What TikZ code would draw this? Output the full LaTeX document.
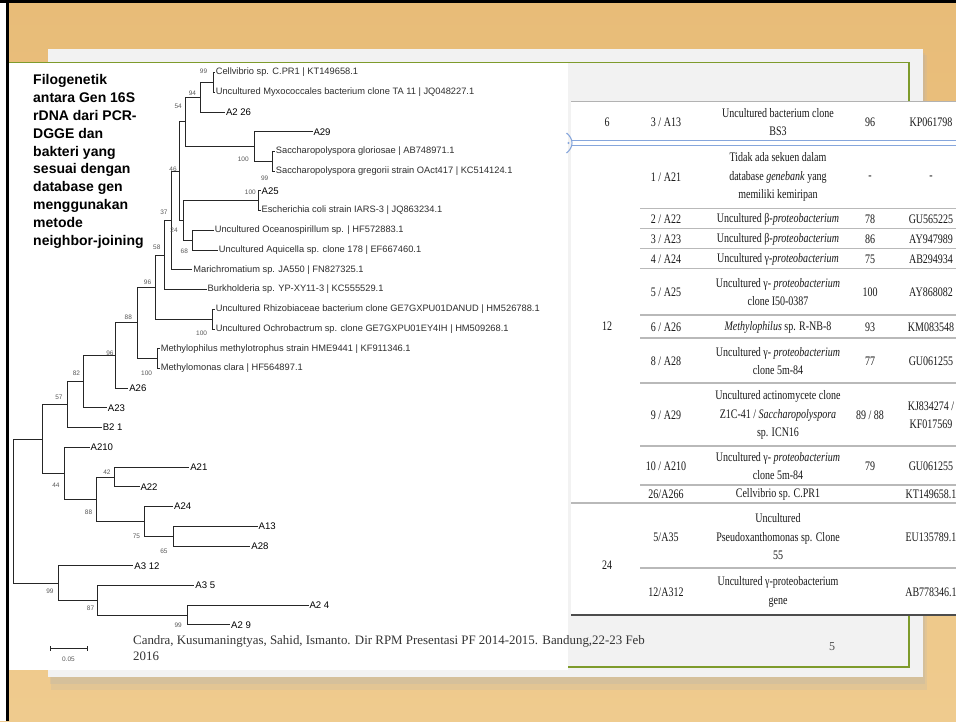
\documentclass[tikz,border=0pt]{standalone}
\usepackage{fontspec}
\setmainfont{Liberation Serif}
\newfontfamily\tabfont[FakeStretch=0.77]{Liberation Serif}
\newfontfamily\arialf{Liberation Sans}
\definecolor{woodtop}{HTML}{E8BC78}
\definecolor{woodbot}{HTML}{EFCB8E}
\definecolor{cardgrey}{HTML}{F2F2F2}
\definecolor{framegreen}{HTML}{7E9B2C}
\definecolor{selblue}{HTML}{86A6DC}
\tikzset{
  tl/.style={font=\arialf\fontsize{9.3}{10}\selectfont, anchor=west, inner sep=0.8pt, text=black!82},
  sl/.style={font=\arialf\fontsize{9.6}{10}\selectfont, anchor=west, inner sep=0.8pt, text=black},
  bs/.style={font=\arialf\fontsize{6.5}{7}\selectfont, text=black!65, inner sep=0},
  br/.style={draw=black!85, line width=0.9pt},
  tc/.style={font=\tabfont\fontsize{13}{18.5}\selectfont, align=center, inner sep=0, text=black!90},
  sepline/.style={draw=gray!55, line width=1.3pt},
}
\begin{document}
\begin{tikzpicture}[x=1pt,y=-1pt]
\useasboundingbox (0,0) rectangle (956,721);
% background
\shade[top color=woodtop, bottom color=woodbot] (0,0) rectangle (956,721);
\fill[white] (0,0) rectangle (6,721);
\fill[black] (6,0) rectangle (9,721);
\fill[black] (0,0) rectangle (956,2.5);
% card shadow and card
\fill[black!30, opacity=0.2] (51,55) rectangle (927,690);
\fill[black!30, opacity=0.25] (50,53) rectangle (925,684);
\fill[cardgrey] (48,49) rectangle (923,677);
% green frame
\draw[framegreen, line width=1.4pt] (33,62.5) rectangle (909,667);
% tree image
\fill[white] (9,63.2) rectangle (568,670);
\draw[framegreen, line width=1.4pt] (9,62.5) -- (568,62.5);
% table background
\fill[white] (571,101) rectangle (956,615);

% ---------- title ----------
\node[anchor=north west, align=left, inner sep=0, font=\arialf\bfseries\fontsize{14}{17.8}\selectfont] (title) at (33,74.5)
{Filogenetik\\antara Gen 16S\\rDNA dari PCR-\\DGGE dan\\bakteri yang\\sesuai dengan\\database gen\\menggunakan\\metode\\neighbor-joining};

% ---------- tree: internal nodes ----------
\coordinate (n99a) at (213.3,82.35);
\coordinate (n94) at (200.5,97.2);
\coordinate (nSac) at (272.8,161.3);
\coordinate (n100a) at (254.5,146.5);
\coordinate (n54) at (185.3,121.8);
\coordinate (nA25) at (258.6,200.8);
\coordinate (n68) at (192.4,240.2);
\coordinate (n24) at (183.2,220.5);
\coordinate (n46) at (179.2,171.2);
\coordinate (n37) at (171,220.5);
\coordinate (n58) at (164.9,255);
\coordinate (nRO) at (212.8,319.1);
\coordinate (n96a) at (155.8,287.1);
\coordinate (nMM) at (157.8,358.6);
\coordinate (n88a) at (137.4,322.8);
\coordinate (n96b) at (115,355.5);
\coordinate (n82) at (83.5,381.7);
\coordinate (n57) at (67.2,404.7);
\coordinate (n42) at (114,477);
\coordinate (n65) at (173.1,536.1);
\coordinate (n75) at (144.6,521.3);
\coordinate (n88b) at (96.7,499.2);
\coordinate (n44) at (64.1,473.2);
\coordinate (nL) at (42.8,439);
\coordinate (n99d) at (187.3,615.1);
\coordinate (n87) at (97.7,600.3);
\coordinate (n99c) at (58,583.1);
\coordinate (root) at (13.2,511);

% ---------- tree: leaf ends ----------
\coordinate (eCell) at (214.8,72.5);
\coordinate (eMyxo) at (214.8,92.2);
\coordinate (eA226) at (225,112);
\coordinate (eA29) at (312.5,131.7);
\coordinate (eSgl) at (274.9,151.4);
\coordinate (eSgr) at (274.9,171.2);
\coordinate (eA25) at (260.6,190.9);
\coordinate (eEcoli) at (260.6,210.6);
\coordinate (eOcean) at (213.8,230.3);
\coordinate (eAqui) at (217.9,250.1);
\coordinate (eMarich) at (192.4,269.8);
\coordinate (eBurk) at (206.7,289.5);
\coordinate (eRhizo) at (214.8,309.3);
\coordinate (eOchro) at (214.8,329);
\coordinate (eMphil) at (159.8,348.7);
\coordinate (eMmon) at (159.8,368.5);
\coordinate (eA26) at (128.3,388.2);
\coordinate (eA23) at (106.9,407.9);
\coordinate (eB21) at (101.8,427.6);
\coordinate (eA210) at (89.6,447.4);
\coordinate (eA21) at (189.3,467.1);
\coordinate (eA22) at (139.5,486.8);
\coordinate (eA24) at (173.1,506.6);
\coordinate (eA13) at (257.6,526.3);
\coordinate (eA28) at (250.4,546);
\coordinate (eA312) at (133.4,565.8);
\coordinate (eA35) at (194.4,585.5);
\coordinate (eA24b) at (308.5,605.2);
\coordinate (eA29b) at (230.1,624.9);

% ---------- tree: branches ----------
\foreach \p/\c in {root/nL, root/n99c, nL/n57, nL/n44, n57/n82, n57/eB21,
  n82/n96b, n82/eA23, n96b/n88a, n96b/eA26, n88a/n96a, n88a/nMM,
  nMM/eMphil, nMM/eMmon, n96a/n58, n96a/nRO, nRO/eRhizo, nRO/eOchro,
  n58/n37, n58/eBurk, n37/n46, n37/eMarich, n46/n54, n46/n24,
  n24/nA25, n24/n68, n68/eOcean, n68/eAqui, nA25/eA25, nA25/eEcoli,
  n54/n94, n54/n100a, n94/n99a, n94/eA226, n99a/eCell, n99a/eMyxo,
  n100a/eA29, n100a/nSac, nSac/eSgl, nSac/eSgr,
  n44/eA210, n44/n88b, n88b/n42, n88b/n75, n42/eA21, n42/eA22,
  n75/eA24, n75/n65, n65/eA13, n65/eA28,
  n99c/eA312, n99c/n87, n87/eA35, n87/n99d, n99d/eA24b, n99d/eA29b}
  \draw[br] (\p) |- (\c);

% ---------- tree: leaf labels ----------
\node[tl] (tCell) at (eCell) {Cellvibrio sp. C.PR1 | KT149658.1};
\node[tl] (tMyxo) at (eMyxo) {Uncultured Myxococcales bacterium clone TA 11 | JQ048227.1};
\node[sl] (tA226) at (eA226) {A2 26};
\node[sl] (tA29) at (eA29) {A29};
\node[tl] (tSgl) at (eSgl) {Saccharopolyspora gloriosae | AB748971.1};
\node[tl] (tSgr) at (eSgr) {Saccharopolyspora gregorii strain OAct417 | KC514124.1};
\node[sl] (tA25) at (eA25) {A25};
\node[tl] (tEcoli) at (eEcoli) {Escherichia coli strain IARS-3 | JQ863234.1};
\node[tl] (tOcean) at (eOcean) {Uncultured Oceanospirillum sp. | HF572883.1};
\node[tl] (tAqui) at (eAqui) {Uncultured Aquicella sp. clone 178 | EF667460.1};
\node[tl] (tMarich) at (eMarich) {Marichromatium sp. JA550 | FN827325.1};
\node[tl] (tBurk) at (eBurk) {Burkholderia sp. YP-XY11-3 | KC555529.1};
\node[tl] (tRhizo) at (eRhizo) {Uncultured Rhizobiaceae bacterium clone GE7GXPU01DANUD | HM526788.1};
\node[tl] (tOchro) at (eOchro) {Uncultured Ochrobactrum sp. clone GE7GXPU01EY4IH | HM509268.1};
\node[tl] (tMphil) at (eMphil) {Methylophilus methylotrophus strain HME9441 | KF911346.1};
\node[tl] (tMmon) at (eMmon) {Methylomonas clara | HF564897.1};
\node[sl] (tA26) at (eA26) {A26};
\node[sl] (tA23) at (eA23) {A23};
\node[sl] (tB21) at (eB21) {B2 1};
\node[sl] (tA210) at (eA210) {A210};
\node[sl] (tA21) at (eA21) {A21};
\node[sl] (tA22) at (eA22) {A22};
\node[sl] (tA24) at (eA24) {A24};
\node[sl] (tA13) at (eA13) {A13};
\node[sl] (tA28) at (eA28) {A28};
\node[sl] (tA312) at (eA312) {A3 12};
\node[sl] (tA35) at (eA35) {A3 5};
\node[sl] (tA24b) at (eA24b) {A2 4};
\node[sl] (tA29b) at (eA29b) {A2 9};

% ---------- tree: bootstrap values ----------
\node[bs] (b99a) at (203.6,71) {99};
\node[bs] (b94) at (192.4,92.9) {94};
\node[bs] (b54) at (178.2,106.1) {54};
\node[bs] (b100a) at (243.3,159.1) {100};
\node[bs] (b99s) at (264.7,178.4) {99};
\node[bs] (b100b) at (250.4,192.7) {100};
\node[bs] (b46) at (173.1,169.3) {46};
\node[bs] (b37) at (163.9,212.6) {37};
\node[bs] (b24) at (174.1,230.5) {24};
\node[bs] (b68) at (184.3,250.8) {68};
\node[bs] (b58) at (156.8,246.8) {58};
\node[bs] (b96a) at (147.6,282.4) {96};
\node[bs] (b100c) at (201.6,333.4) {100};
\node[bs] (b88a) at (128.3,317.1) {88};
\node[bs] (b100d) at (146.6,373.1) {100};
\node[bs] (b96b) at (109.9,352.8) {96};
\node[bs] (b82) at (76.4,373.1) {82};
\node[bs] (b57) at (59,397.6) {57};
\node[bs] (b44) at (56,485.2) {44};
\node[bs] (b42) at (106.9,472.1) {42};
\node[bs] (b88b) at (88.6,511.8) {88};
\node[bs] (b75) at (136.4,536.4) {75};
\node[bs] (b65) at (163.9,551.7) {65};
\node[bs] (b99c) at (49.9,591.2) {99};
\node[bs] (b87) at (90.6,608.5) {87};
\node[bs] (b99d) at (178.2,624.9) {99};

% scale bar
\coordinate (sbL) at (50,648);
\coordinate (sbR) at (87,648);
\draw[br, line width=0.8pt] (sbL) -- (sbR);
\draw[br, line width=0.8pt] ([yshift=-2.5pt]sbL) -- ([yshift=2.5pt]sbL);
\draw[br, line width=0.8pt] ([yshift=-2.5pt]sbR) -- ([yshift=2.5pt]sbR);
\node[bs] (sbtext) at (68.5,659) {0.05};

% citation
\node[anchor=west, align=left, inner sep=0, text=black!80, font=\fontsize{12.9}{16}\selectfont] (cite) at (133,648)
{Candra, Kusumaningtyas, Sahid, Ismanto. Dir RPM Presentasi PF 2014-2015. Bandung,22-23 Feb\\2016};
% page number
\node[inner sep=0, text=black!70, font=\fontsize{12}{14}\selectfont] (pagenum) at (832,647) {5};

% ---------- table lines ----------
\draw[gray!60, line width=1pt] (571,101) -- (956,101);
\draw[selblue, line width=1.6pt] (572,140.5) -- (956,140.5);
\draw[selblue, line width=1.6pt] (572,145.5) -- (956,145.5);
\draw[selblue, line width=1.1pt] (566.5,133) .. controls (570,136) and (572,139) .. (572,143) .. controls (572,147) and (570,150) .. (566.5,153);
\fill[selblue] (568.5,143) circle (1.1);
\foreach \yy in {208.5,228.5,248.5,268.5,315,338,383,446,485,568}
  \draw[sepline] (640,\yy) -- (956,\yy);
\draw[sepline] (571,503) -- (956,503);
\draw[black!70, line width=2pt] (571,615) -- (956,615);

% ---------- table text ----------
\node[tc] (g6) at (607,122) {6};
\node[tc] (g12) at (607,326) {12};
\node[tc] (g24) at (607,565) {24};

\node[tc] (a1) at (666,122) {3 / A13};
\node[tc] (d1) at (778,122) {Uncultured bacterium clone\\BS3};
\node[tc] (s1) at (870,122) {96};
\node[tc] (k1) at (931,122) {KP061798};

\node[tc] (a2) at (666,177) {1 / A21};
\node[tc] (d2) at (778,177) {Tidak ada sekuen dalam\\database \textit{genebank} yang\\memiliki kemiripan};
\node[tc] (s2) at (870,178) {-};
\node[tc] (k2) at (931,178) {-};

\node[tc] (a3) at (666,219) {2 / A22};
\node[tc] (d3) at (778,219) {Uncultured β-\textit{proteobacterium}};
\node[tc] (s3) at (870,219) {78};
\node[tc] (k3) at (931,219) {GU565225};

\node[tc] (a4) at (666,239) {3 / A23};
\node[tc] (d4) at (778,239) {Uncultured β-\textit{proteobacterium}};
\node[tc] (s4) at (870,239) {86};
\node[tc] (k4) at (931,239) {AY947989};

\node[tc] (a5) at (666,259) {4 / A24};
\node[tc] (d5) at (778,259) {Uncultured γ-\textit{proteobacterium}};
\node[tc] (s5) at (870,259) {75};
\node[tc] (k5) at (931,259) {AB294934};

\node[tc] (a6) at (666,292) {5 / A25};
\node[tc] (d6) at (778,292) {Uncultured γ- \textit{proteobacterium}\\clone I50-0387};
\node[tc] (s6) at (870,292) {100};
\node[tc] (k6) at (931,292) {AY868082};

\node[tc] (a7) at (666,327) {6 / A26};
\node[tc] (d7) at (778,327) {\textit{Methylophilus} sp. R-NB-8};
\node[tc] (s7) at (870,327) {93};
\node[tc] (k7) at (931,327) {KM083548};

\node[tc] (a8) at (666,361) {8 / A28};
\node[tc] (d8) at (778,361) {Uncultured γ- \textit{proteobacterium}\\clone 5m-84};
\node[tc] (s8) at (870,361) {77};
\node[tc] (k8) at (931,361) {GU061255};

\node[tc] (a9) at (666,415) {9 / A29};
\node[tc] (d9) at (778,415) {Uncultured actinomycete clone\\Z1C-41 / \textit{Saccharopolyspora}\\sp. ICN16};
\node[tc] (s9) at (870,415) {89 / 88};
\node[tc] (k9) at (931,415) {KJ834274 /\\KF017569};

\node[tc] (a10) at (666,466) {10 / A210};
\node[tc] (d10) at (778,466) {Uncultured γ- \textit{proteobacterium}\\clone 5m-84};
\node[tc] (s10) at (870,466) {79};
\node[tc] (k10) at (931,466) {GU061255};

\node[tc] (a11) at (666,494) {26/A266};
\node[tc] (d11) at (778,494) {Cellvibrio sp. C.PR1};
\node[tc] (k11) at (931,494) {KT149658.1};

\node[tc] (a12) at (666,537) {5/A35};
\node[tc] (d12) at (778,537) {Uncultured\\Pseudoxanthomonas sp. Clone\\55};
\node[tc] (k12) at (931,537) {EU135789.1};

\node[tc] (a13) at (666,592) {12/A312};
\node[tc] (d13) at (778,592) {Uncultured γ-proteobacterium\\gene};
\node[tc] (k13) at (931,592) {AB778346.1};
\end{tikzpicture}
\end{document}
